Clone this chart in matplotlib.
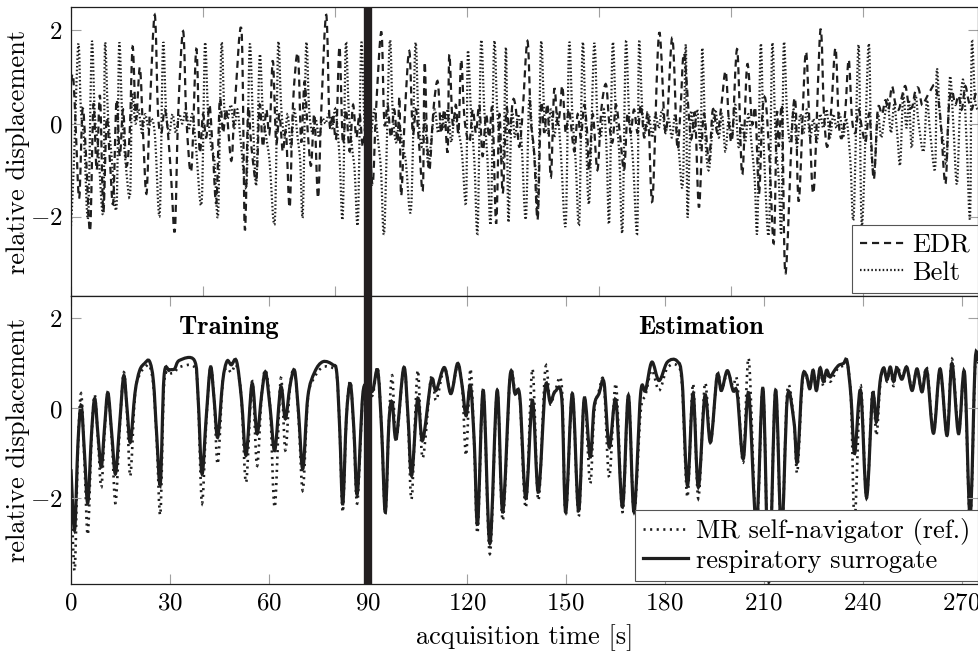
import numpy as np
import matplotlib
matplotlib.use("Agg")
import matplotlib.pyplot as plt
from matplotlib.path import Path
from matplotlib.patches import PathPatch
from matplotlib.lines import Line2D

plt.rcParams["font.family"] = ["cmr10", "DejaVu Serif"]
plt.rcParams["mathtext.fontset"] = "cm"
plt.rcParams["axes.formatter.use_mathtext"] = True
plt.rcParams["font.size"] = 19

# (time [s], value) pairs
edr = np.array([
    (0.0, 0.9), (0.7, 1.0), (1.5, -0.2), (2.5, -1.6), (3.5, 0.3), (4.5, -0.6), (5.8, -2.3),
    (6.8, 0.4), (7.8, -1.0), (8.8, 0.6), (9.8, -1.9), (10.8, 0.1), (11.8, -0.8), (12.8, -1.7),
    (13.8, 0.5), (14.8, -0.7), (15.8, 0.3), (16.8, -0.9), (17.8, -0.2), (18.7, 1.65), (19.7, 0.1),
    (20.9, 1.2), (21.9, -0.3), (22.9, -1.5), (23.9, 0.3), (25.4, 2.33), (26.4, 0.2), (27.4, -0.2),
    (28.4, 0.3), (29.4, -0.2), (30.4, -1.2), (31.5, -2.3), (32.5, 0.2), (34.0, 1.98), (35.0, 0.1),
    (36.5, -1.0), (38.0, 1.6), (39.0, -0.6), (40.0, 0.2), (41.0, -0.3), (42.0, 0.4), (43.0, -0.6),
    (44.1, -1.7), (45.1, 0.5), (46.1, -0.2), (47.1, 0.3), (48.6, -0.8), (49.6, 0.3), (51.7, 2.0),
    (52.7, -2.27), (53.7, 0.3), (54.7, -0.5), (56.2, -1.2), (57.2, 0.4), (58.2, -0.5), (59.2, 0.3),
    (60.2, -0.2), (61.2, 1.35), (62.2, -0.4), (63.2, 0.2), (64.2, -0.6), (65.2, -0.2), (66.3, -1.8),
    (67.3, 0.4), (68.8, 1.5), (69.8, -0.4), (70.8, 0.9), (71.8, -0.2), (72.8, -0.9), (73.8, 0.2),
    (74.9, -1.6), (75.9, 0.3), (77.4, 2.33), (78.4, 0.0), (79.4, 0.2), (80.4, -0.3), (81.4, 1.65),
    (82.4, -0.4), (83.4, 0.3), (84.5, -0.6), (85.5, 0.4), (86.5, -0.3), (87.5, 0.2), (88.5, -0.5),
    (89.5, 0.1), (90.5, -0.4), (91.5, -1.3), (92.5, 0.3), (94.1, 1.96), (95.0, 0.0), (96.0, 0.4),
    (97.0, -0.3), (98.0, 0.3), (99.0, -0.4), (99.6, 0.55), (100.1, -1.55), (101.3, 0.3), (102.6, 1.55),
    (103.6, -0.2), (104.6, 0.3), (105.6, -0.5), (106.7, -1.4), (107.2, 1.3), (107.9, -0.2), (108.7, -1.0),
    (109.9, 0.3), (111.2, 0.9), (112.2, -0.2), (113.2, 0.3), (114.2, -0.6), (114.7, 1.48), (115.7, 0.0),
    (116.7, 0.4), (117.5, -0.2), (118.3, 1.37), (119.3, 0.1), (120.8, -0.4), (121.8, 0.3), (122.8, -0.2),
    (123.8, 0.4), (124.8, -0.7), (125.8, 0.2), (126.8, -0.3), (127.8, 0.3), (128.9, -2.15), (129.9, 0.2),
    (130.9, -1.5), (132.0, 0.3), (133.0, -0.2), (134.0, 0.5), (134.9, 0.3), (135.9, -0.5), (136.9, 0.2),
    (138.4, 1.77), (139.4, 0.1), (140.4, -0.6), (141.5, -2.05), (142.5, 0.4), (143.5, -0.2), (144.5, 0.4),
    (145.5, -1.16), (146.5, 0.73), (147.5, 0.0), (148.3, 0.3), (149.0, 0.8), (150.0, -0.2), (151.0, 0.3),
    (152.6, -0.6), (153.6, 0.2), (154.6, -0.3), (155.6, 0.4), (156.5, -0.2), (157.1, -1.0), (158.2, 0.2),
    (159.6, -1.0), (160.8, 0.3), (162.2, 0.84), (163.2, 0.0), (164.2, -0.4), (165.2, 0.4), (166.4, -0.2),
    (167.7, -1.0), (168.7, 0.2), (169.7, -0.2), (170.7, 0.3), (171.8, -0.2), (172.8, 0.4), (173.8, -0.3),
    (175.0, 0.2), (176.3, -1.65), (178.3, 1.94), (180.3, -0.2), (182.3, 1.84), (183.8, -0.5), (184.8, 0.3),
    (185.9, 1.5), (187.9, -0.3), (189.2, 0.2), (190.4, -1.8), (191.8, 0.2), (193.4, -0.8), (194.6, 0.3),
    (196.0, -0.2), (197.2, 0.4), (198.5, 1.12), (199.5, 0.0), (200.5, -0.3), (202.0, 1.59), (203.5, -1.1),
    (205.0, 1.26), (206.5, 0.0), (207.5, 0.3), (208.6, -1.5), (209.6, 0.2), (210.6, 0.5), (211.8, -0.8),
    (213.1, -2.56), (214.0, 0.2), (214.6, -0.5), (215.6, 0.3), (216.6, -3.23), (218.7, 0.0), (219.7, 0.4),
    (220.7, -1.66), (222.7, 1.5), (223.9, 0.0), (225.2, -1.45), (227.2, 2.0), (228.3, 0.2), (229.3, -0.5),
    (230.5, 0.3), (231.8, 1.62), (232.8, 0.0), (233.8, -0.3), (234.8, 0.3), (235.8, 1.37), (236.8, 0.1),
    (237.8, -0.2), (238.8, 0.3), (239.8, -0.1), (240.9, -0.4), (242.1, 0.2), (243.4, -1.2), (244.6, 0.3),
    (245.9, 0.2), (246.9, 0.5), (247.9, 0.3), (248.9, 0.8), (250.0, 0.4), (251.0, 0.3), (252.0, 0.6),
    (253.0, 0.8), (254.0, 0.4), (255.0, 0.35), (256.0, 0.7), (257.0, 0.75), (258.0, 0.4), (259.0, 0.5),
    (260.5, 0.7), (262.0, 0.8), (263.5, 0.2), (265.1, -1.3), (266.1, 0.3), (267.1, 0.7), (268.1, 0.4),
    (269.1, 0.6), (270.1, 0.3), (271.1, 0.8), (272.1, 0.5), (273.1, 0.3), (274.1, 0.6), (275.0, 0.7),
])

belt = np.array([
    (0.0, -2.2), (0.8, -1.0), (2.2, 1.69), (3.0, 0.3), (4.0, -0.4), (5.2, -2.0), (6.3, 1.72),
    (7.2, 0.2), (8.2, -0.5), (9.8, -1.9), (10.3, 1.69), (11.2, 0.2), (12.2, -0.6), (13.8, -1.8),
    (14.6, 1.69), (15.5, 0.2), (16.5, -0.8), (17.9, -1.54), (18.5, 0.6), (19.5, 0.0), (20.5, 0.3),
    (21.5, -0.2), (22.5, 0.2), (23.5, -0.1), (24.5, 0.1), (25.5, -0.3), (26.9, -1.95), (27.9, 1.69),
    (28.8, 0.3), (29.8, -0.2), (30.8, 0.2), (31.8, -0.2), (32.8, 0.2), (33.8, 0.0), (34.8, 0.3),
    (35.8, -0.1), (36.8, 0.2), (37.8, -0.4), (39.6, -1.7), (40.6, 1.69), (41.5, 0.3), (42.5, -0.5),
    (43.5, -0.8), (44.6, -1.95), (45.6, 1.69), (46.5, 0.3), (47.5, 0.1), (48.5, 0.4), (49.5, -0.1),
    (50.5, 0.3), (51.5, -0.4), (53.2, -1.3), (54.2, 1.69), (55.2, 0.0), (56.2, -1.3), (57.2, 1.45),
    (58.2, 0.2), (59.2, -0.3), (60.2, -0.8), (61.8, -2.1), (62.8, 1.69), (63.7, 0.4), (64.7, -0.3),
    (65.7, 0.2), (66.7, -0.5), (67.7, 0.3), (68.7, -0.3), (69.5, -0.8), (70.3, -1.95), (71.3, 1.69),
    (72.2, 0.3), (73.2, -0.2), (74.2, 0.1), (75.2, -0.3), (76.2, 0.1), (77.2, 0.0), (78.2, 0.2),
    (79.2, -0.1), (80.2, 0.3), (81.4, -0.7), (82.4, -2.0), (83.3, 1.69), (84.2, 0.3), (85.2, -0.5),
    (86.0, -1.0), (87.0, -2.1), (88.0, 1.69), (89.0, 0.0), (90.0, -0.5), (91.0, -0.2), (92.0, 0.3),
    (93.0, -0.3), (94.0, -1.0), (95.0, -2.3), (96.6, 1.72), (97.5, 0.3), (98.5, -0.4), (99.5, 0.0),
    (100.5, -0.5), (101.5, -0.8), (103.1, -1.84), (104.4, 1.69), (105.3, 0.2), (106.3, -0.5),
    (107.3, 0.1), (108.3, -0.9), (109.3, -0.3), (110.3, 0.3), (111.3, -0.2), (112.3, 0.2),
    (113.3, -0.1), (114.3, 0.3), (115.3, -0.4), (116.3, 0.2), (117.3, -0.1), (118.5, -0.6),
    (119.8, -1.66), (120.3, 1.52), (121.3, 0.2), (122.3, -0.8), (123.3, -2.3), (124.3, 1.72),
    (125.3, 0.3), (126.3, -0.8), (127.3, -2.1), (128.3, 1.72), (129.3, 0.2), (131.0, -0.8),
    (131.9, 1.62), (132.6, -2.1), (133.6, 0.2), (134.6, -0.3), (135.6, 0.2), (136.6, -0.4),
    (137.9, -2.05), (138.9, 0.5), (139.9, -0.3), (140.9, -1.0), (141.6, -1.9), (142.5, 1.72),
    (143.5, 0.2), (144.5, -0.2), (145.5, 0.3), (146.5, -0.3), (147.5, 0.2), (148.5, -0.6),
    (150.0, -2.16), (151.0, 1.69), (152.0, 0.2), (153.0, -0.8), (154.1, -2.12), (155.1, 1.69),
    (156.0, 0.1), (157.1, -1.7), (158.6, 1.69), (159.6, 0.1), (160.6, -0.3), (161.6, 0.3),
    (162.4, -0.6), (163.2, -2.1), (164.2, 1.69), (165.2, 0.2), (166.2, -0.6), (167.2, -2.3),
    (168.2, 1.69), (169.2, 0.2), (170.4, -0.8), (171.7, -2.3), (172.2, 1.69), (173.2, 0.3),
    (174.2, -0.2), (175.2, 0.2), (176.2, -0.3), (177.2, 0.2), (178.2, -0.1), (179.2, 0.3),
    (180.2, -0.2), (181.2, 0.1), (182.2, -0.3), (183.2, 0.2), (184.2, -0.5), (185.5, -1.3),
    (186.4, 1.7), (186.9, -2.0), (187.9, 0.2), (188.9, -0.2), (189.9, 0.3), (190.9, -0.5),
    (191.4, 1.62), (192.4, -0.4), (193.4, -1.0), (194.4, -0.2), (195.4, 0.3), (196.4, -0.3),
    (197.4, 0.2), (198.4, -0.6), (199.4, 0.1), (200.4, -0.3), (201.4, 0.4), (202.4, -0.5),
    (203.4, 0.0), (204.4, -0.4), (205.4, 0.2), (206.4, -0.5), (207.3, -1.2), (208.1, -2.27),
    (209.1, 1.69), (210.1, -0.6), (211.6, -2.35), (212.6, 1.69), (213.6, -0.3), (214.6, -1.2),
    (215.4, -2.27), (216.1, 1.69), (217.1, 0.2), (218.1, -0.4), (219.1, 0.3), (220.1, -0.5),
    (221.1, 0.2), (222.1, -0.2), (223.1, 0.3), (224.1, -0.3), (225.1, 0.1), (226.1, -0.4),
    (227.1, 0.2), (228.1, -0.1), (229.1, 0.3), (230.1, -0.3), (231.1, 0.2), (232.1, -0.1),
    (233.1, 0.2), (234.1, -0.3), (235.1, 0.1), (236.3, -0.8), (237.3, -2.0), (238.8, 1.69),
    (239.8, -2.2), (241.8, 1.69), (242.6, -0.5), (243.6, -1.0), (244.6, 0.2), (245.6, -0.3),
    (246.6, 0.1), (247.6, 0.5), (248.6, -0.2), (249.6, 0.4), (250.6, -0.3), (251.4, -0.88),
    (252.3, 0.6), (253.3, -0.1), (254.1, 0.5), (254.9, -0.52), (256.0, 0.6), (257.0, 0.0),
    (258.5, -0.6), (259.5, 0.5), (260.5, -0.2), (262.0, -0.95), (262.5, 1.16), (263.5, 0.1),
    (264.5, -0.4), (265.5, -0.8), (266.5, 1.0), (267.5, 0.0), (268.6, -1.3), (269.6, 0.4),
    (270.6, 0.9), (271.6, -0.5), (272.6, -2.0), (273.1, 1.69), (274.1, 0.5), (275.0, 0.3),
])

# time [s], respiratory surrogate, MR self-navigator
resp = np.array([
    (0.0, -1.35, -1.5), (1.1, -2.7, -3.6), (2.1, -0.8, -0.9), (3.1, 0.07, 0.33), (4.1, -1.0, -1.2),
    (5.1, -2.1, -2.8), (6.2, -0.6, -0.7), (7.2, 0.22, 0.3), (8.2, -0.6, -0.7), (9.2, -1.3, -1.75),
    (10.2, -0.4, -0.5), (11.2, 0.35, 0.35), (12.4, -0.6, -0.7), (13.5, -1.45, -2.1), (14.8, -0.3, -0.4),
    (16.0, 0.73, 0.8), (17.0, 0.0, -0.1), (18.0, -0.75, -1.5), (19.4, 0.34, 0.3), (20.8, 0.84, 0.75),
    (22.3, 1.0, 0.9), (23.8, 1.05, 0.95), (25.0, 0.6, 0.5), (26.0, -0.6, -0.7), (27.1, -1.67, -2.35),
    (28.2, 0.7, 0.5), (29.8, 0.85, 0.75), (31.4, 0.88, 0.8), (32.9, 1.07, 0.92), (37.4, 1.07, 0.92),
    (38.5, 0.3, 0.3), (39.7, -1.45, -2.1), (41.0, -0.2, -0.3), (42.3, 0.92, 0.92), (43.4, 0.2, 0.2),
    (44.5, -0.64, -1.23), (46.0, 0.6, 0.6), (47.3, 1.05, 0.9), (48.6, 0.97, 0.8), (50.2, 1.05, 0.95),
    (51.7, 0.2, 0.2), (53.1, -1.04, -1.64), (54.9, 0.55, 0.6), (56.4, -0.56, -1.27), (57.8, 0.3, 0.3),
    (59.0, 0.81, 0.85), (60.4, 0.0, 0.0), (61.8, -0.93, -2.19), (63.6, 0.47, 0.66), (65.0, -0.23, -0.93),
    (66.4, 0.5, 0.5), (67.8, 0.84, 0.84), (69.0, -0.1, -0.2), (70.3, -1.34, -1.82), (71.8, 0.25, 0.2),
    (73.9, 0.81, 0.7), (76.4, 1.04, 0.92), (79.4, 0.97, 0.9), (80.6, 0.78, 0.75), (81.5, -0.5, -0.5),
    (82.4, -2.12, -2.3), (83.5, -0.2, -0.2), (84.7, 0.55, 0.6), (85.8, -0.5, -0.6), (86.8, -1.9, -2.1),
    (88.5, 0.33, 0.3), (90.0, 0.4, 0.4), (91.5, 0.4, 0.3), (93.0, 0.84, 0.9), (94.2, -0.5, -0.5),
    (95.3, -2.3, -2.35), (96.4, -0.3, -0.3), (97.4, 0.14, 0.73), (98.6, -0.67, -0.7), (100.9, 0.91, 0.9),
    (102.2, -0.2, -0.3), (103.3, -1.49, -2.0), (105.1, 0.22, 0.84), (106.6, -0.71, -1.1), (109.2, 0.62, 0.7),
    (110.7, 0.4, 0.18), (113.2, 0.91, 0.9), (115.2, 0.33, 0.35), (117.2, 1.0, 0.95), (118.6, 0.5, 0.5),
    (119.8, -0.16, -1.04), (121.1, 0.51, 0.88), (122.3, -0.8, -0.9), (123.3, -2.56, -2.75), (125.0, 0.4, 0.4),
    (127.0, -3.0, -3.23), (129.2, 0.4, 0.4), (130.9, -2.3, -2.49), (133.1, 0.7, 0.7), (134.6, 0.33, 0.4),
    (136.1, 0.25, 0.2), (137.9, -2.0, -2.2), (139.9, 0.18, 0.88), (141.7, -1.86, -2.04), (143.8, 0.47, 0.88),
    (145.3, 0.14, 0.1), (146.8, 0.38, 0.4), (148.8, 0.22, 0.5), (150.0, -2.3, -2.38), (152.0, 0.33, 0.33),
    (153.9, -2.27, -2.4), (155.6, 0.22, 0.22), (157.4, -1.08, -1.67), (158.6, 0.04, -0.1), (160.1, 0.33, 0.4),
    (161.6, 0.58, 0.55), (163.2, -0.86, -1.53), (165.2, 0.18, 0.55), (167.2, -2.19, -2.3), (169.0, 0.29, 0.3),
    (170.7, -2.3, -2.3), (172.7, 0.33, -0.08), (174.2, 0.4, 0.3), (176.1, 1.03, 0.85), (178.3, 0.62, 0.4),
    (180.8, 1.03, 0.9), (183.8, 1.05, 0.95), (185.3, 0.6, 0.5), (186.9, -1.71, -1.97), (188.6, 0.33, 0.55),
    (190.2, -1.75, -2.0), (192.2, 0.29, 0.55), (193.9, -0.75, -0.75), (195.9, 0.73, 0.75), (197.2, 0.4, 0.4),
    (199.0, 0.84, 0.8), (200.7, 0.4, 0.5), (202.0, 0.33, 0.6), (203.8, -1.12, -1.2), (205.5, 0.33, 1.1),
    (207.8, -2.6, -2.7), (209.8, 0.44, 0.44), (211.6, -3.85, -3.85), (213.6, 0.4, 0.4), (215.4, -2.8, -2.9),
    (217.2, 0.25, 0.4), (219.2, -0.3, -0.3), (220.2, -1.19, -1.42), (221.7, 0.62, 0.55), (222.9, 0.75, 0.7),
    (224.0, 0.44, 0.5), (225.0, 0.85, 0.8), (226.0, 0.4, 0.5), (227.1, 0.9, 0.9), (228.1, 0.6, 0.5),
    (229.1, 0.85, 0.8), (230.1, 0.7, 0.6), (231.1, 0.8, 0.7), (232.6, 0.95, 0.9), (234.2, 1.0, 0.95),
    (235.3, 1.05, 1.0), (236.5, 0.25, 0.2), (237.6, -1.0, -2.5), (239.4, 0.4, 0.5), (241.2, -1.97, -2.0),
    (243.0, 0.29, 0.4), (244.2, -0.3, -0.6), (245.3, 0.6, 0.5), (246.4, 0.9, 0.9), (247.4, 0.64, 0.6),
    (248.4, 0.92, 0.9), (249.4, 0.6, 0.5), (250.4, 0.9, 0.95), (251.9, 0.65, 0.7), (253.4, 0.92, 0.9),
    (255.0, 0.4, 0.45), (256.5, 0.88, 0.85), (258.0, 0.37, 0.4), (259.5, 0.84, 0.9), (261.5, -0.55, -0.5),
    (263.5, 0.88, 0.85), (265.6, -0.6, -0.55), (267.1, 1.0, 1.1), (269.1, -0.56, -0.5), (270.9, 0.8, 0.7),
    (272.6, -2.4, -2.5), (274.1, 1.0, 0.9), (275.0, 1.05, 1.0),
])

split_time = 90
ink = "#1e1e1e"


def smooth_line(ax, x, y, **kw):
    # smooth curve through the points (cubic Bezier segments, like pgfplots "smooth")
    pts = np.column_stack([x, y])
    n = len(pts)
    verts = [pts[0]]
    codes = [Path.MOVETO]
    for i in range(n - 1):
        p0 = pts[max(i - 1, 0)]
        p1 = pts[i]
        p2 = pts[i + 1]
        p3 = pts[min(i + 2, n - 1)]
        verts += [p1 + (p2 - p0) / 6, p2 - (p3 - p1) / 6, p2]
        codes += [Path.CURVE4] * 3
    ax.add_patch(PathPatch(Path(verts, codes), fill=False, capstyle="butt", **kw))
    return Line2D([], [], **kw)


edr_style = dict(color=ink, lw=1.6, linestyle=(0, (3.2, 2.2)))
belt_style = dict(color=ink, lw=1.6, linestyle=(0, (0.7, 1.0)))
nav_style = dict(color=ink, lw=1.9, linestyle=(0, (0.8, 1.7)))
sur_style = dict(color=ink, lw=2.3, linestyle="-")

fig = plt.figure(figsize=(9.79, 6.58), dpi=100)
ax1 = fig.add_axes([0.0725, 0.5502, 0.9265, 0.4392])
ax2 = fig.add_axes([0.0725, 0.1125, 0.9265, 0.4377])

h_edr = smooth_line(ax1, edr[:, 0], edr[:, 1], **edr_style)
h_belt = smooth_line(ax1, belt[:, 0], belt[:, 1], **belt_style)
ax1.set_xlim(0, 275)
ax1.set_ylim(-3.7, 2.5)
ax1.set_xticks([0, 40, 80, 120, 160, 200, 240])
ax1.set_xticklabels([])

h_nav = smooth_line(ax2, resp[:, 0], resp[:, 2], **nav_style)
h_sur = smooth_line(ax2, resp[:, 0], resp[:, 1], **sur_style)
ax2.set_xlim(0, 275)
ax2.set_ylim(-3.9, 2.5)
ax2.set_xticks(np.arange(0, 271, 30))
ax2.set_xlabel("acquisition time [s]", labelpad=7)

for ax in (ax1, ax2):
    ax.axvline(split_time, color="#231f20", lw=6, zorder=5)
    ax.set_yticks([-2, 0, 2])
    ax.set_ylabel("relative displacement", labelpad=0)
    ax.tick_params(direction="in", length=7, width=0.8, color="#a0a0a0",
                   top=True, right=True, labelsize=18, pad=6)
    for s in ax.spines.values():
        s.set_linewidth(0.9)
        s.set_color(ink)

ax2.text(48, 1.8, "Training", family="cmb10", fontsize=19, ha="center", va="center")
ax2.text(191, 1.8, "Estimation", family="cmb10", fontsize=19, ha="center", va="center")

leg_kw = dict(loc="lower right", frameon=True, fancybox=False, borderaxespad=0,
              handlelength=1.7, handletextpad=0.3, borderpad=0.3, labelspacing=0.15,
              fontsize=19, framealpha=1)
l1 = ax1.legend([h_edr, h_belt], ["EDR", "Belt"], bbox_to_anchor=(1.0, 0.012), **leg_kw)
l2 = ax2.legend([h_nav, h_sur], ["MR self-navigator (ref.)", "respiratory surrogate"],
                bbox_to_anchor=(1.0, 0.012), **leg_kw)
for l in (l1, l2):
    l.get_frame().set_edgecolor("#555555")
    l.get_frame().set_linewidth(0.8)
    l.set_zorder(10)

fig.savefig("out.png", dpi=100)
